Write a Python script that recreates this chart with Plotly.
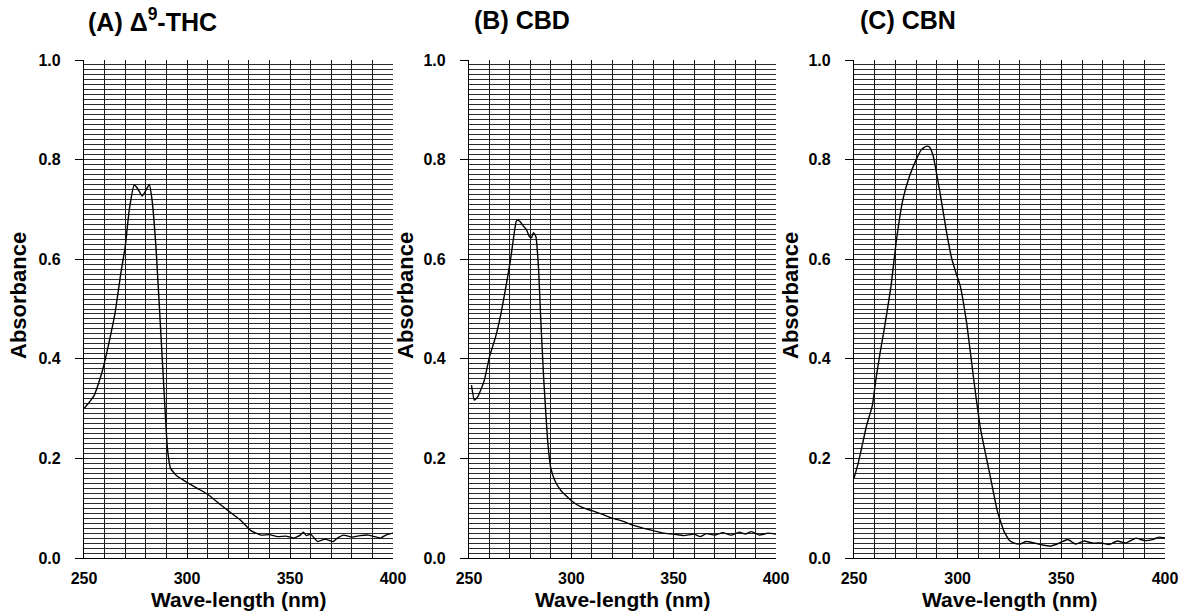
import plotly.graph_objects as go

# ---------------- data ----------------
panel_titles = ["(A) Δ<sup>9</sup>-THC", "(B) CBD", "(C) CBN"]
x_title = "Wave-length (nm)"
y_title = "Absorbance"

thc_nm = [250, 251, 253, 255, 257, 259, 262, 265, 268, 270, 272, 274.4, 276, 278.2, 280,
          281.7, 283, 285, 287.4, 289, 290.5, 292, 295, 300, 305, 310, 316, 320, 326, 331,
          336, 340, 344, 348, 352, 355, 356.5, 358, 360, 363.4, 367, 371, 373, 376, 380,
          384, 388, 391, 394, 397, 400]
thc_abs = [0.30, 0.305, 0.315, 0.327, 0.35, 0.377, 0.43, 0.49, 0.575, 0.625, 0.70, 0.749,
           0.742, 0.727, 0.738, 0.750, 0.72, 0.62, 0.444, 0.324, 0.22, 0.18, 0.165, 0.152,
           0.14, 0.128, 0.108, 0.095, 0.076, 0.055, 0.046, 0.047, 0.043, 0.044, 0.04, 0.046,
           0.052, 0.045, 0.048, 0.033, 0.038, 0.033, 0.04, 0.046, 0.042, 0.045, 0.046, 0.043,
           0.04, 0.047, 0.05]

cbd_nm = [251.2, 252.6, 254, 256, 257.5, 260, 263, 265.6, 268.9, 270.5, 273, 273.7, 275,
          276.9, 278, 279.4, 280.5, 281.5, 282.7, 284, 285, 286.5, 288.4, 290, 292, 295,
          300, 305, 310, 315, 320, 325, 330, 335, 340, 345, 350, 355, 360, 363, 366, 370,
          374, 378, 382, 385, 388, 392, 396, 400]
cbd_abs = [0.347, 0.317, 0.322, 0.34, 0.357, 0.404, 0.444, 0.49, 0.565, 0.605, 0.675, 0.679,
           0.675, 0.665, 0.66, 0.646, 0.643, 0.653, 0.645, 0.58, 0.485, 0.36, 0.237, 0.18,
           0.155, 0.135, 0.115, 0.102, 0.095, 0.088, 0.08, 0.074, 0.066, 0.06, 0.055, 0.05,
           0.048, 0.045, 0.048, 0.043, 0.049, 0.046, 0.051, 0.046, 0.052, 0.048, 0.053,
           0.046, 0.05, 0.048]

cbn_nm = [250, 252, 254, 256, 258.9, 260.6, 262.5, 264.6, 267.9, 270.3, 273.6, 276.8, 280,
          282.5, 285, 286.5, 288.2, 291.5, 294.7, 297.2, 299, 301.2, 304.5, 307.7, 311,
          315.9, 319.2, 322.4, 325, 327.3, 330, 333, 337, 341, 345, 349, 353, 357, 361, 365,
          369.5, 373, 377, 381, 386, 390, 394, 397, 400]
cbn_abs = [0.16, 0.19, 0.227, 0.265, 0.307, 0.36, 0.41, 0.46, 0.547, 0.633, 0.72, 0.767,
           0.80, 0.82, 0.827, 0.825, 0.807, 0.733, 0.653, 0.60, 0.575, 0.547, 0.467, 0.36,
           0.26, 0.16, 0.093, 0.053, 0.035, 0.03, 0.028, 0.033, 0.03, 0.026, 0.024, 0.03,
           0.037, 0.028, 0.034, 0.03, 0.03, 0.027, 0.034, 0.03, 0.04, 0.035, 0.037, 0.042,
           0.04]

series = [(thc_nm, thc_abs), (cbd_nm, cbd_abs), (cbn_nm, cbn_abs)]

# ---------------- layout geometry ----------------
W, H = 1181, 615
x_domains = [(84 / W, 393 / W), (469 / W, 776 / W), (854 / W, 1165 / W)]
y_domain = (1 - 558 / H, 1 - 60 / H)
title_x_px = [86, 472, 858]
ytitle_x_px = [18, 405, 790]

FONT = "Liberation Sans, Arial, sans-serif"

fig = go.Figure()
layout = dict(
    width=W, height=H,
    margin=dict(l=0, r=0, t=0, b=0, autoexpand=False),
    paper_bgcolor="white", plot_bgcolor="white",
    showlegend=False,
    annotations=[],
)

for i, (xs, ys) in enumerate(series):
    n = "" if i == 0 else str(i + 1)
    fig.add_trace(go.Scatter(
        x=xs, y=ys, mode="lines",
        line=dict(color="black", width=1.4, shape="spline", smoothing=0.4),
        xaxis="x" + n, yaxis="y" + n, hoverinfo="skip",
    ))
    layout["xaxis" + n] = dict(
        domain=list(x_domains[i]), range=[250, 400], anchor="y" + n,
        tick0=250, dtick=50, showgrid=True, gridcolor="#111111", gridwidth=1.3,
        minor=dict(dtick=10, showgrid=True, gridcolor="#1a1a1a", gridwidth=1.3,
                   ticks=""),
        showline=True, linecolor="black", linewidth=1.3,
        ticks="inside", ticklen=5, tickcolor="black", tickwidth=1.3,
        tickfont=dict(family=FONT, size=16, color="black", weight="bold"),
        ticklabelstandoff=6, automargin=False,
        zeroline=False, fixedrange=True,
    )
    layout["yaxis" + n] = dict(
        domain=list(y_domain), range=[0, 1], anchor="x" + n,
        tick0=0, dtick=0.2, tickformat=".1f",
        showgrid=True, gridcolor="#222222", gridwidth=1,
        minor=dict(dtick=0.01, showgrid=True, gridcolor="#2a2a2a", gridwidth=1,
                   ticks=""),
        showline=True, linecolor="black", linewidth=1.3,
        ticks="outside", ticklen=8, tickcolor="black", tickwidth=1.3,
        tickfont=dict(family=FONT, size=16, color="black", weight="bold"),
        ticklabelstandoff=11, automargin=False,
        zeroline=False, fixedrange=True,
    )
    # panel title
    layout["annotations"].append(dict(
        text=panel_titles[i], xref="paper", yref="paper",
        x=title_x_px[i] / W, y=1 - 20 / H, xanchor="left", yanchor="middle",
        showarrow=False, font=dict(family=FONT, size=25, color="black", weight="bold"),
    ))
    # y axis title
    layout["annotations"].append(dict(
        text=y_title, xref="paper", yref="paper", textangle=-90,
        x=ytitle_x_px[i] / W, y=1 - 296 / H, xanchor="center", yanchor="middle",
        showarrow=False, font=dict(family=FONT, size=22, color="black", weight="bold"),
    ))
    # x axis title
    cx = (x_domains[i][0] + x_domains[i][1]) / 2
    layout["annotations"].append(dict(
        text=x_title, xref="paper", yref="paper",
        x=cx, y=1 - 599 / H, xanchor="center", yanchor="middle",
        showarrow=False, font=dict(family=FONT, size=21, color="black", weight="bold"),
    ))

fig.update_layout(**layout)
fig.write_html(
    "out.html",
    config={"displayModeBar": False},
    post_script="document.body.style.margin='0';document.body.style.padding='0';"
                "document.body.style.overflow='hidden';",
)
